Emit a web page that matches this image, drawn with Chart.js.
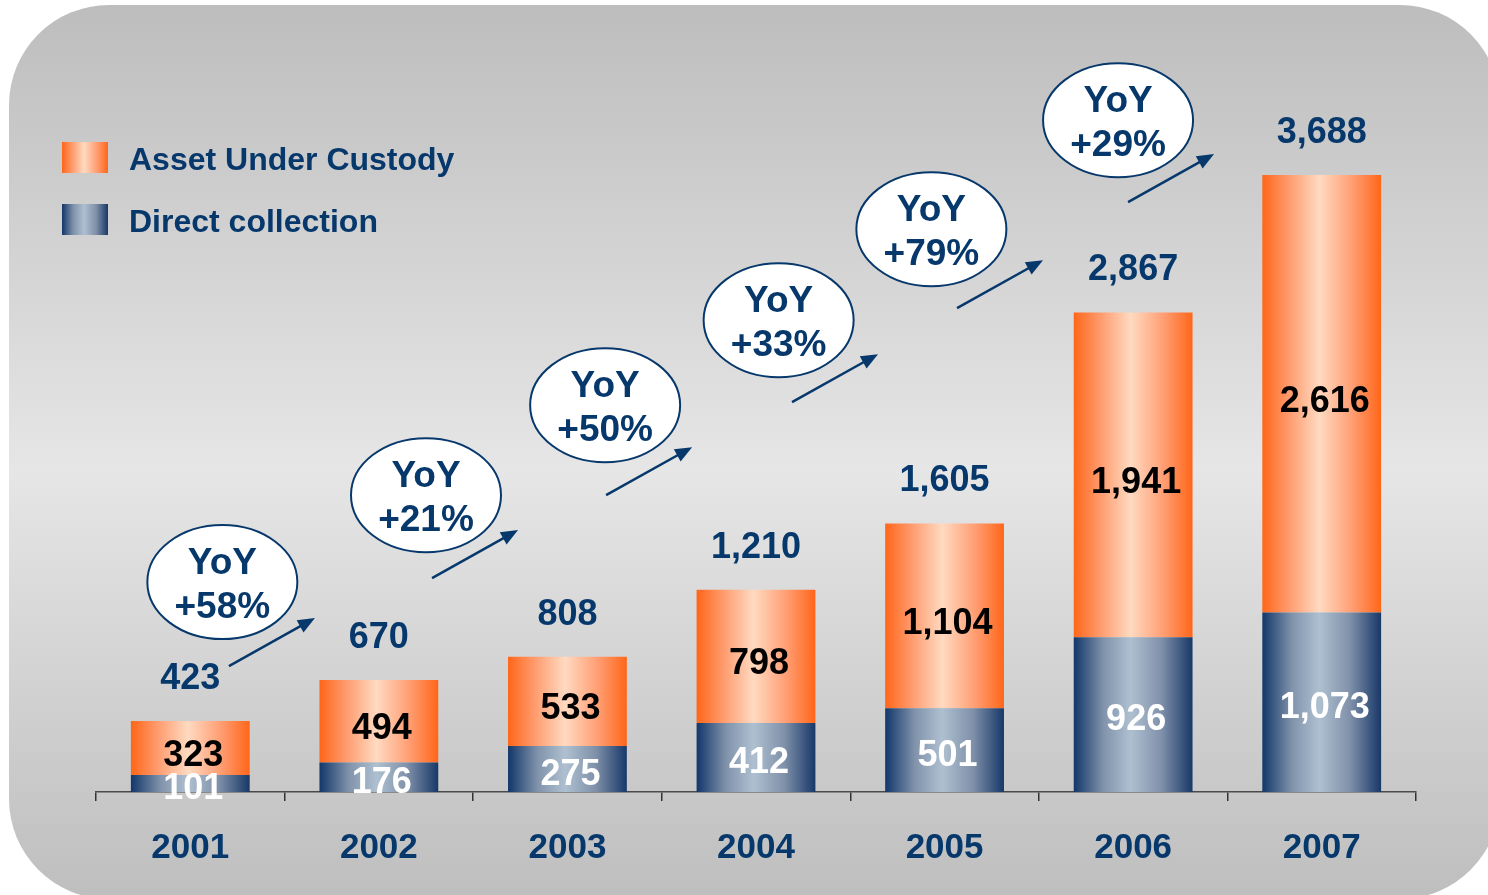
<!DOCTYPE html>
<html>
<head>
<meta charset="utf-8">
<script src="https://cdn.jsdelivr.net/npm/chart.js@4.4.0/dist/chart.umd.min.js"></script>
<style>
  html, body { margin: 0; padding: 0; background: #fff; }
  #wrap { width: 1488px; height: 895px; }
</style>
</head>
<body>
<div id="wrap"><canvas id="chart" width="1488" height="895"></canvas></div>
<script>
const years = ['2001', '2002', '2003', '2004', '2005', '2006', '2007'];
const custody = [323, 494, 533, 798, 1104, 1941, 2616];
const direct = [101, 176, 275, 412, 501, 926, 1073];
const totals = [423, 670, 808, 1210, 1605, 2867, 3688];
const yoyLabels = ['+58%', '+21%', '+50%', '+33%', '+79%', '+29%'];
// bubble and arrow anchors in data space (category index, value)
const bubbleX = [0.17, 1.25, 2.2, 3.12, 3.93, 4.92];
const bubbleY = [1255, 1775, 2313, 2821, 3365, 4017];
const arrowX = [0.205, 1.282, 2.205, 3.191, 4.066, 4.973];
const arrowY = [753, 1279, 1775, 2331, 2893, 3527];

const NAVY = '#07386c';
const FONT = '"Liberation Sans", Arial, sans-serif';
const BAR_PCT = 0.63;

const orangeStops = [[0, '#ff6619'], [0.22, '#ff9a6c'], [0.48, '#ffdac1'], [0.76, '#ff9d72'], [1, '#ff6619']];
const navyStops = [[0, '#12376a'], [0.25, '#8193ab'], [0.48, '#aec0d0'], [0.74, '#7f90a9'], [1, '#173868']];

function hGradient(ctx2d, x0, x1, stops) {
    const g = ctx2d.createLinearGradient(x0, 0, x1, 0);
    stops.forEach(([p, c]) => g.addColorStop(p, c));
    return g;
}

function barFill(stops) {
    return (context) => {
        const chart = context.chart;
        const xs = chart.scales.x;
        if (context.type !== 'data' || !xs || !chart.chartArea) return stops[0][1];
        const cx = xs.getPixelForValue(context.dataIndex);
        const hw = (xs.width / years.length) * BAR_PCT / 2;
        return hGradient(chart.ctx, cx - hw, cx + hw, stops);
    };
}

const backgroundPlugin = {
    id: 'panel',
    beforeDraw(chart) {
        const c = chart.ctx;
        c.save();
        c.fillStyle = '#ffffff';
        c.fillRect(0, 0, chart.width, chart.height);
        const g = c.createLinearGradient(0, 5, 0, 899);
        g.addColorStop(0, '#bdbdbd');
        g.addColorStop(0.52, '#e6e6e6');
        g.addColorStop(1, '#bebebe');
        c.fillStyle = g;
        c.beginPath();
        c.roundRect(9, 5, 1491, 894, 100);
        c.fill();
        c.restore();
    }
};

const labelPlugin = {
    id: 'labels',
    afterDatasetsDraw(chart) {
        const c = chart.ctx;
        const xs = chart.scales.x;
        const ys = chart.scales.y;
        const navyBars = chart.getDatasetMeta(0).data;
        const orangeBars = chart.getDatasetMeta(1).data;
        c.save();
        c.textAlign = 'center';
        c.textBaseline = 'middle';
        c.font = 'bold 36px ' + FONT;
        years.forEach((y, i) => {
            const nb = navyBars[i], ob = orangeBars[i];
            c.fillStyle = '#ffffff';
            c.fillText(direct[i].toLocaleString('en-US'), nb.x + 3, (nb.y + nb.base) / 2 + 6);
            c.fillStyle = '#000000';
            c.fillText(custody[i].toLocaleString('en-US'), ob.x + 3, (ob.y + ob.base) / 2 + 8);
            c.fillStyle = NAVY;
            c.fillText(totals[i].toLocaleString('en-US'), ob.x, ob.y - 42);
        });

        // YoY bubbles and arrows
        yoyLabels.forEach((t, i) => {
            const bx = xs.getPixelForValue(bubbleX[i]);
            const by = ys.getPixelForValue(bubbleY[i]);
            c.beginPath();
            c.ellipse(bx, by, 75, 57, 0, 0, Math.PI * 2);
            c.fillStyle = '#ffffff';
            c.fill();
            c.lineWidth = 2;
            c.strokeStyle = NAVY;
            c.stroke();
            c.fillStyle = NAVY;
            c.font = 'bold 37px ' + FONT;
            c.fillText('YoY', bx, by - 18);
            c.fillText(t, bx, by + 26);

            const ax = xs.getPixelForValue(arrowX[i]);
            const ay = ys.getPixelForValue(arrowY[i]);
            const ex = ax + 86, ey = ay - 48;
            const ang = Math.atan2(ey - ay, ex - ax);
            c.beginPath();
            c.moveTo(ax, ay);
            c.lineTo(ex - 12 * Math.cos(ang), ey - 12 * Math.sin(ang));
            c.lineWidth = 2.5;
            c.stroke();
            c.beginPath();
            c.moveTo(ex, ey);
            c.lineTo(ex - 17 * Math.cos(ang) + 7 * Math.sin(ang), ey - 17 * Math.sin(ang) - 7 * Math.cos(ang));
            c.lineTo(ex - 17 * Math.cos(ang) - 7 * Math.sin(ang), ey - 17 * Math.sin(ang) + 7 * Math.cos(ang));
            c.closePath();
            c.fill();
        });
        c.restore();
    },
    afterDraw(chart) {
        // legend, custody first
        const c = chart.ctx;
        const items = [
            [chart.data.datasets[1].label, orangeStops, 142],
            [chart.data.datasets[0].label, navyStops, 204]
        ];
        c.save();
        c.font = 'bold 32px ' + FONT;
        c.textBaseline = 'middle';
        c.textAlign = 'left';
        items.forEach(([label, stops, top]) => {
            c.fillStyle = hGradient(c, 62, 108, stops);
            c.fillRect(62, top, 46, 31);
            c.fillStyle = NAVY;
            c.fillText(label, 129, top + 19);
        });
        c.restore();
    }
};

new Chart(document.getElementById('chart'), {
    type: 'bar',
    data: {
        labels: years,
        datasets: [
            { label: 'Direct collection', data: direct, backgroundColor: barFill(navyStops), borderWidth: 0 },
            { label: 'Asset Under Custody', data: custody, backgroundColor: barFill(orangeStops), borderWidth: 0 }
        ]
    },
    options: {
        responsive: false,
        animation: false,
        devicePixelRatio: 1,
        layout: { padding: { left: 96, right: 72, top: 123, bottom: 0 } },
        plugins: { legend: { display: false }, tooltip: { enabled: false } },
        datasets: { bar: { barPercentage: BAR_PCT, categoryPercentage: 1 } },
        scales: {
            x: {
                stacked: true,
                afterFit(scale) { scale.height = 103; },
                border: { display: true, color: '#4a4a4a', width: 1.5 },
                grid: { drawOnChartArea: false, drawTicks: true, tickLength: 9, color: '#333333', lineWidth: 1.5 },
                ticks: { color: NAVY, padding: 26, font: { family: FONT, size: 35, weight: 'bold' } }
            },
            y: {
                stacked: true,
                display: false,
                min: 0,
                max: 4000
            }
        }
    },
    plugins: [backgroundPlugin, labelPlugin]
});
</script>
</body>
</html>
